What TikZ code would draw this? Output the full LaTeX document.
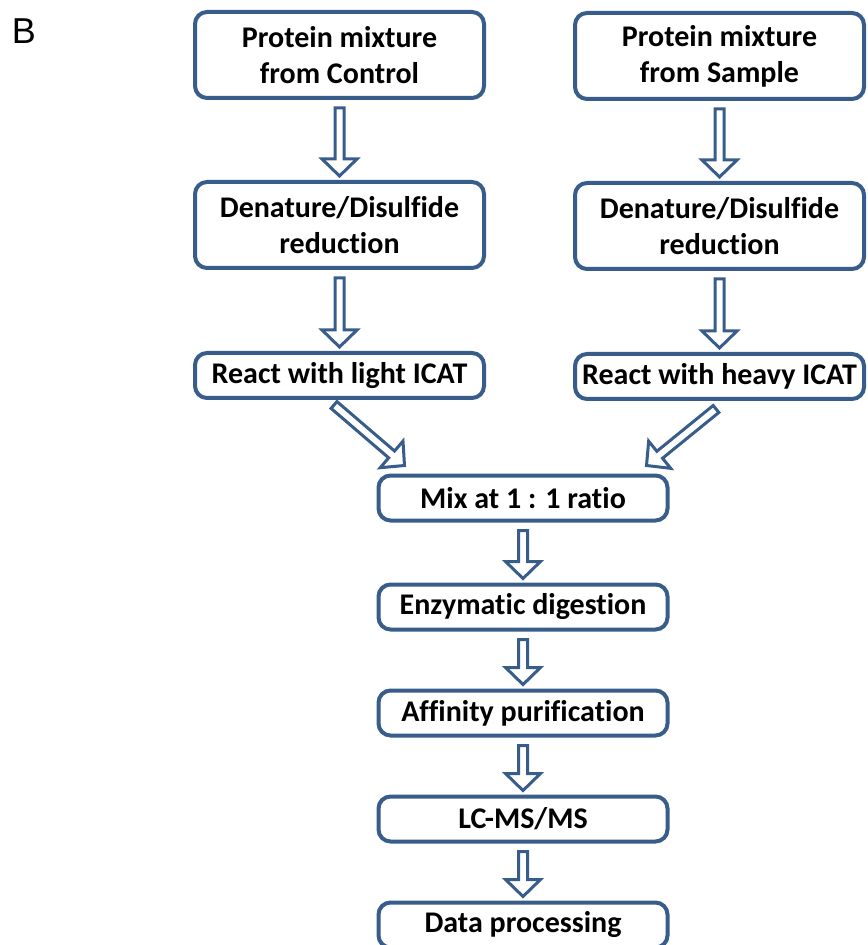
\documentclass[tikz,border=0pt]{standalone}
\usepackage{fontspec}
\setmainfont{Carlito}[Ligatures=NoCommon]
\newfontfamily\labelfont{Liberation Sans}
\usetikzlibrary{positioning, calc}

\definecolor{boxblue}{RGB}{56,93,138}

% hollow block arrow between two coordinates
\newcommand{\hollowarrow}[2]{%
  \coordinate (ha-s) at #1;
  \coordinate (ha-e) at #2;
  \coordinate (ha-h) at ($(ha-e)!8.5pt!(ha-s)$);
  \draw[flowarrow] ($(ha-s)!2.25pt!90:(ha-e)$) -- ($(ha-h)!2.25pt!90:(ha-e)$)
    -- ($(ha-h)!8.75pt!90:(ha-e)$) -- (ha-e) -- ($(ha-h)!8.75pt!-90:(ha-e)$)
    -- ($(ha-h)!2.25pt!-90:(ha-e)$) -- ($(ha-s)!2.25pt!-90:(ha-e)$) -- cycle;
}

\begin{document}
\begin{tikzpicture}[
    x=0.5pt, y=-0.5pt,
    node distance=40pt,
    stepbox/.style={draw=boxblue, line width=2pt, rounded corners=6pt, fill=white,
      minimum width=144.5pt, minimum height=22.5pt, inner sep=1pt, align=center,
      font=\fontsize{15}{18}\selectfont\bfseries},
    tall/.style={minimum height=43pt},
    flowarrow/.style={draw=boxblue, line width=1.5pt, fill=white}
  ]
    \useasboundingbox (0,0) rectangle (867,945);
    \node[font=\labelfont\fontsize{18}{20}\selectfont] (label) at (24,31) {B};

    % two branches
    \node[stepbox, tall] (ctrl1) at (339.5,55) {Protein mixture\\from Control};
    \node[stepbox, tall, below=of ctrl1] (ctrl2) {Denature/Disulfide\\reduction};
    \node[stepbox, below=40.5pt of ctrl2] (ctrl3) {React with light ICAT};
    \node[stepbox, tall] (samp1) at (719.5,56) {Protein mixture\\from Sample};
    \node[stepbox, tall, below=of samp1] (samp2) {Denature/Disulfide\\reduction};
    \node[stepbox, below=40.5pt of samp2] (samp3) {React with heavy ICAT};

    % merged pipeline
    \node[stepbox] (mix) at (523,498) {Mix at 1 : 1 ratio};
    \node[stepbox, below=30pt of mix] (enz) {Enzymatic digestion};
    \node[stepbox, below=28.5pt of enz] (aff) {Affinity purification};
    \node[stepbox, below=28.5pt of aff] (lcms) {LC-MS/MS};
    \node[stepbox, below=28.5pt of lcms] (data) {Data processing};

    \coordinate (ltail) at ($(ctrl3.south)+(-5.5,5)$);
    \coordinate (ltip) at ($(mix.north west)+(28,-8)$);
    \coordinate (rtail) at ($(samp3.south)+(-3.5,8)$);
    \coordinate (rtip) at ($(mix.north east)+(-23,-8)$);

    \hollowarrow{($(ctrl1.south)+(0,8)$)}{($(ctrl2.north)+(0,-4)$)}
    \hollowarrow{($(ctrl2.south)+(0,8)$)}{($(ctrl3.north)+(0,-4)$)}
    \hollowarrow{($(samp1.south)+(0,8)$)}{($(samp2.north)+(0,-4)$)}
    \hollowarrow{($(samp2.south)+(0,8)$)}{($(samp3.north)+(0,-4)$)}
    \hollowarrow{(ltail)}{(ltip)}
    \hollowarrow{(rtail)}{(rtip)}
    \hollowarrow{($(mix.south)+(0,8)$)}{($(enz.north)+(0,-4)$)}
    \hollowarrow{($(enz.south)+(0,8)$)}{($(aff.north)+(0,-4)$)}
    \hollowarrow{($(aff.south)+(0,8)$)}{($(lcms.north)+(0,-4)$)}
    \hollowarrow{($(lcms.south)+(0,8)$)}{($(data.north)+(0,-4)$)}
  \end{tikzpicture}
\end{document}
